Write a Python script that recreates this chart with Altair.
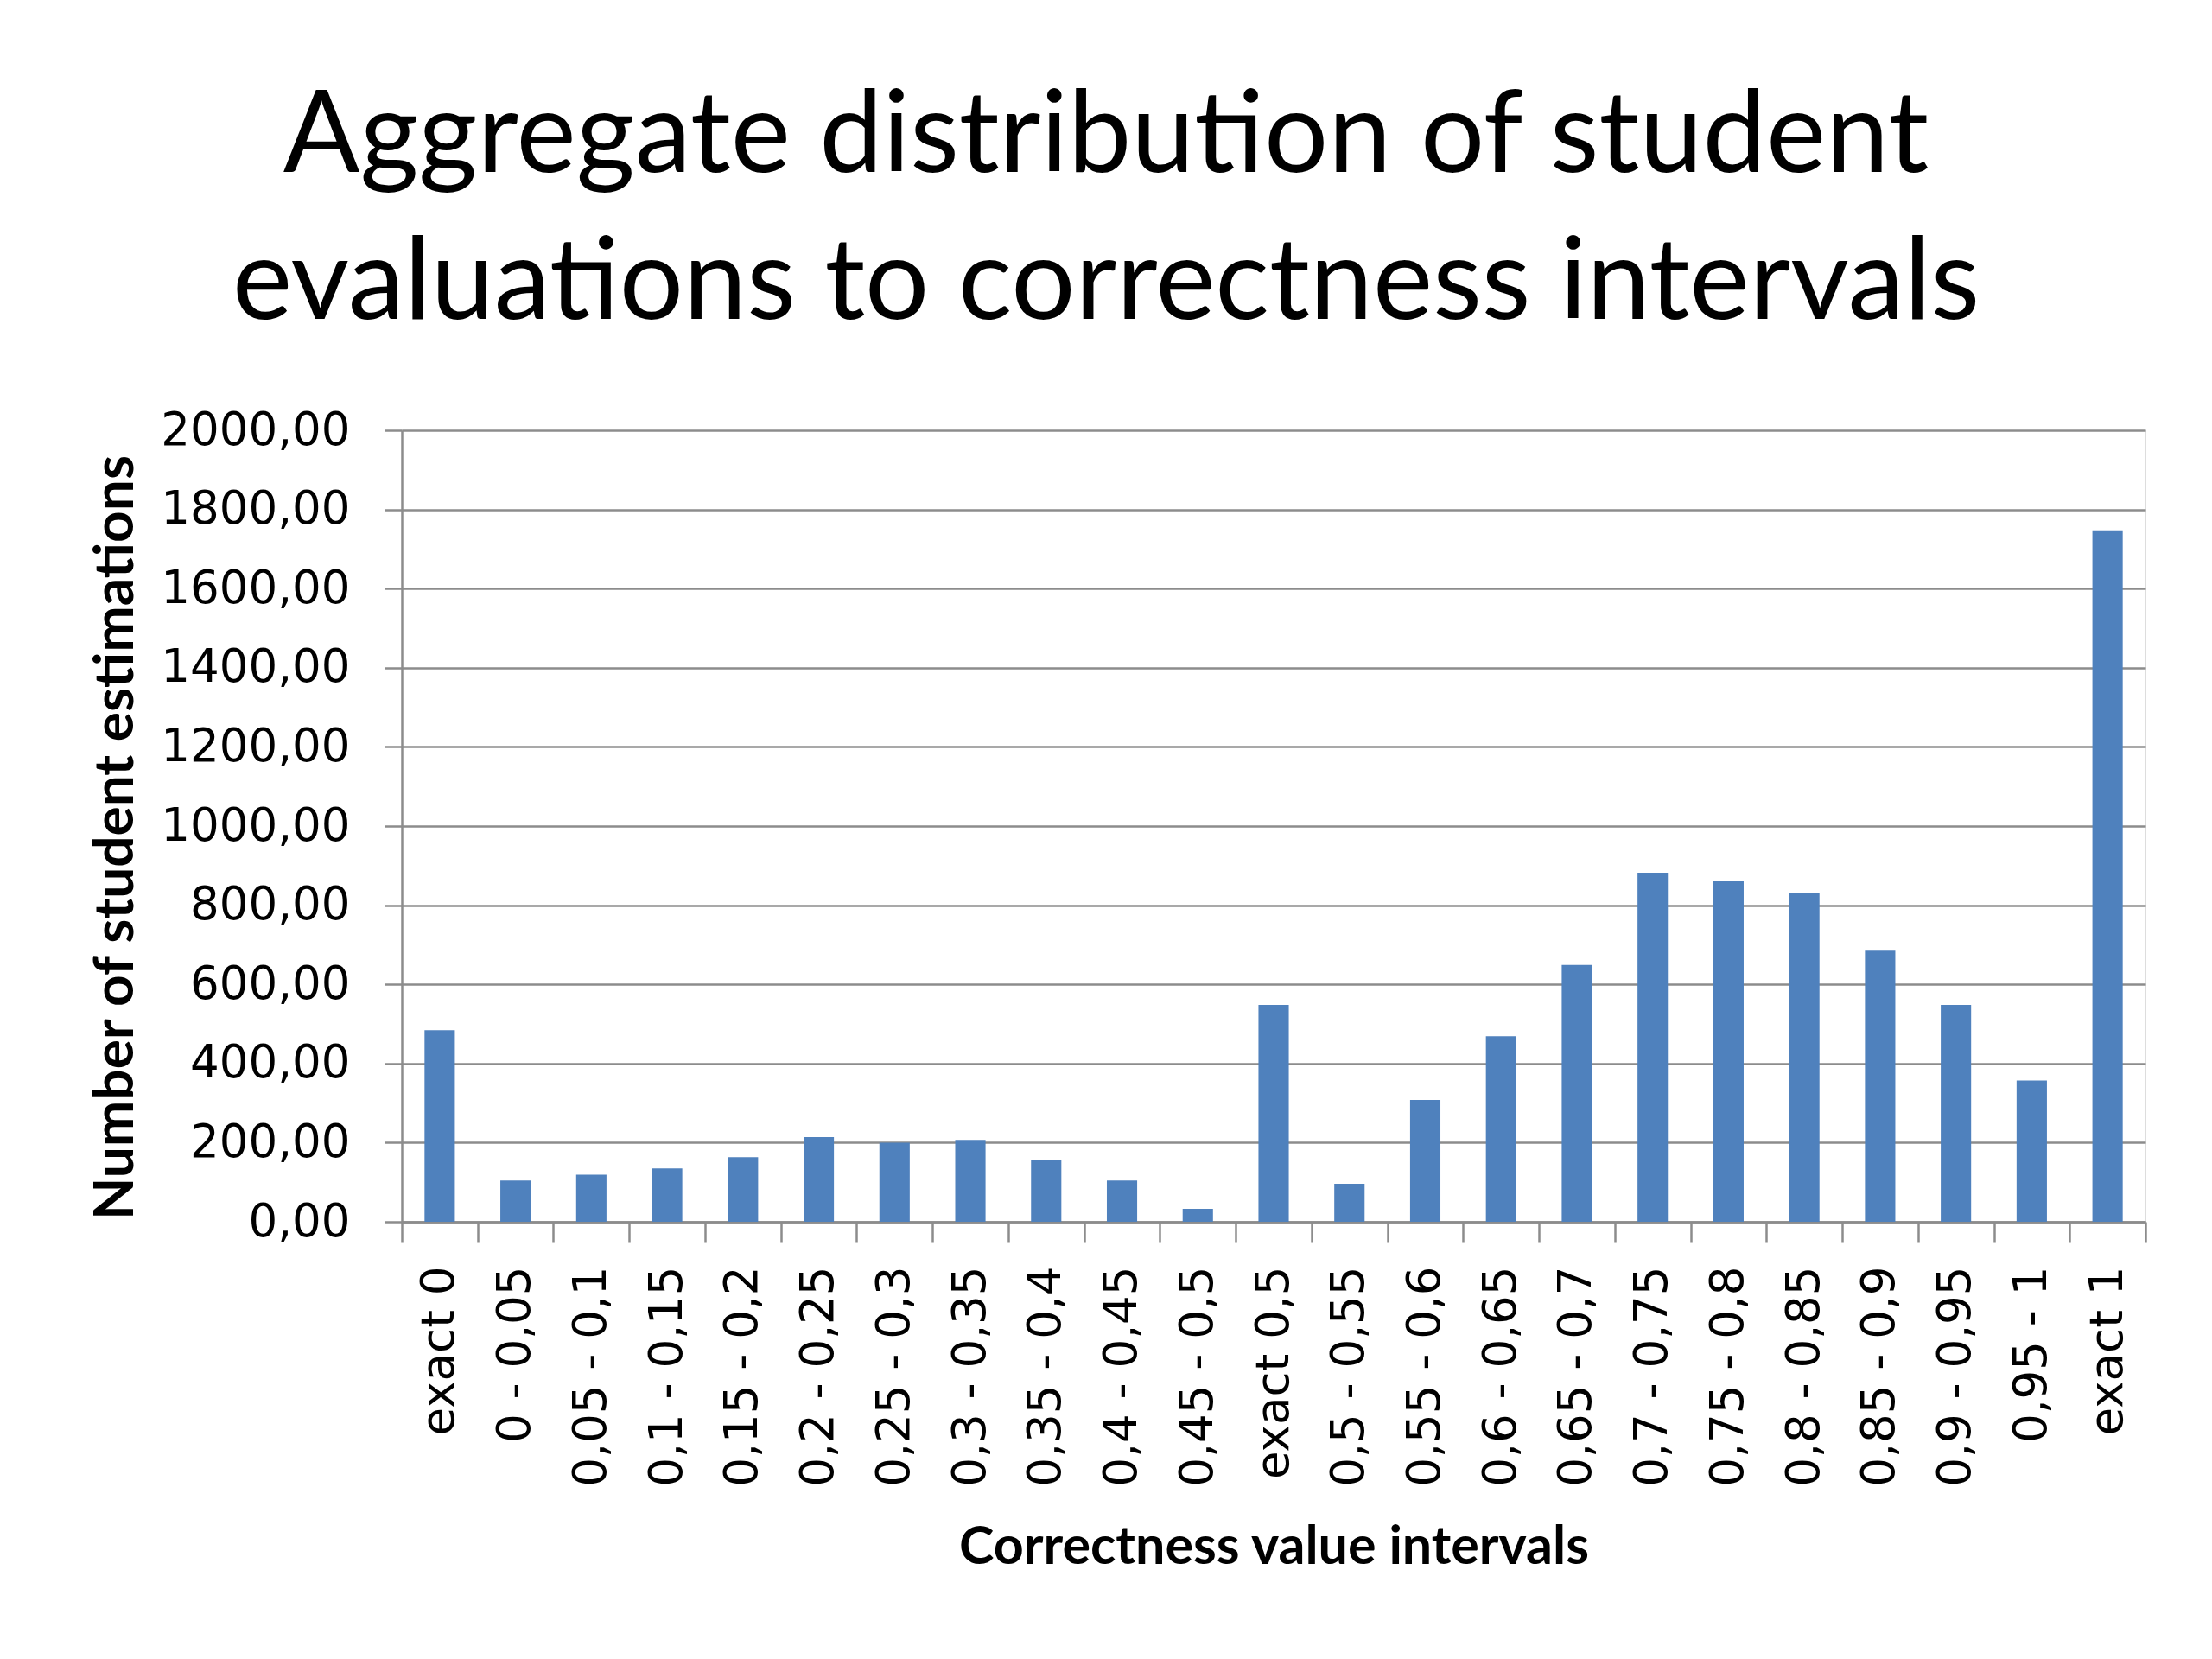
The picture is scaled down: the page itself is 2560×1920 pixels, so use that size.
import altair as alt
import pandas as pd

categories = ["exact 0", "0 - 0,05", "0,05 - 0,1", "0,1 - 0,15", "0,15 - 0,2",
              "0,2 - 0,25", "0,25 - 0,3", "0,3 - 0,35", "0,35 - 0,4", "0,4 - 0,45",
              "0,45 - 0,5", "exact 0,5", "0,5 - 0,55", "0,55 - 0,6", "0,6 - 0,65",
              "0,65 - 0,7", "0,7 - 0,75", "0,75 - 0,8", "0,8 - 0,85", "0,85 - 0,9",
              "0,9 - 0,95", "0,95 - 1", "exact 1"]
counts = [484, 104, 119, 135, 163, 214, 200, 207, 157, 104, 33, 548, 96, 308,
          469, 649, 882, 860, 831, 685, 548, 357, 1747]
y_ticks = [0, 200, 400, 600, 800, 1000, 1200, 1400, 1600, 1800, 2000]
title_lines = ["Aggregate distribution of student", "evaluations to correctness intervals"]

df = pd.DataFrame({"interval": categories, "count": counts})

W, H = 2018, 916
step = W / len(categories)
pad_inner, pad_outer = 0.6, 0.3
band_frac = 1 - pad_inner
grid_color = "#8c8c8c"

chart = alt.Chart(df).mark_bar(color="#4F81BD").encode(
    x=alt.X("interval:N", sort=categories,
            scale=alt.Scale(paddingInner=pad_inner, paddingOuter=pad_outer),
            axis=alt.Axis(title="Correctness value intervals",
                          labelAngle=270, labelAlign="right", labelBaseline="middle",
                          labelFont="DejaVu Sans", labelFontSize=53, labelColor="#000000",
                          labelPadding=28,
                          bandPosition=1 / band_frac, tickExtra=True,
                          tickOffset=-pad_outer * step, labelOffset=pad_outer * step,
                          labelOverlap=False, labelLimit=400,
                          tickSize=23, tickColor=grid_color, tickWidth=2.5,
                          domainColor=grid_color, domainWidth=2.5,
                          titleFont="Lato", titleFontWeight="bold", titleFontSize=61,
                          titleColor="#000000", titleX=W / 2, titleY=395,
                          titleAlign="center", titleBaseline="alphabetic")),
    y=alt.Y("count:Q",
            scale=alt.Scale(domain=[0, 2000], nice=False),
            axis=alt.Axis(title="Number of student estimations", values=y_ticks,
                          labelExpr="replace(format(datum.value, '.2f'), '.', ',')",
                          labelFont="DejaVu Sans", labelFontSize=53, labelColor="#000000",
                          labelPadding=40, labelLimit=400,
                          tickSize=20, tickColor=grid_color, tickWidth=2.5,
                          domainColor=grid_color, domainWidth=2.5,
                          grid=True, gridColor=grid_color, gridWidth=2.5,
                          titleFont="Lato", titleFontWeight="bold", titleFontSize=64,
                          titleColor="#000000", titleX=-312, titleY=471, titleAngle=270,
                          titleAlign="center", titleBaseline="alphabetic")),
).properties(
    width=W, height=H,
    title=alt.TitleParams(text=title_lines, font="Lato", fontSize=131, fontWeight="normal",
                          color="#000000", anchor="middle", baseline="alphabetic",
                          lineHeight=170, offset=129, dx=-194, dy=157),
    padding={"left": 457, "top": 490, "right": 69, "bottom": 498},
    autosize=alt.AutoSizeParams(type="none"),
).configure_view(stroke=None).configure(background="white")

chart.save("out.html", embed_options={"renderer": "svg", "actions": False})
